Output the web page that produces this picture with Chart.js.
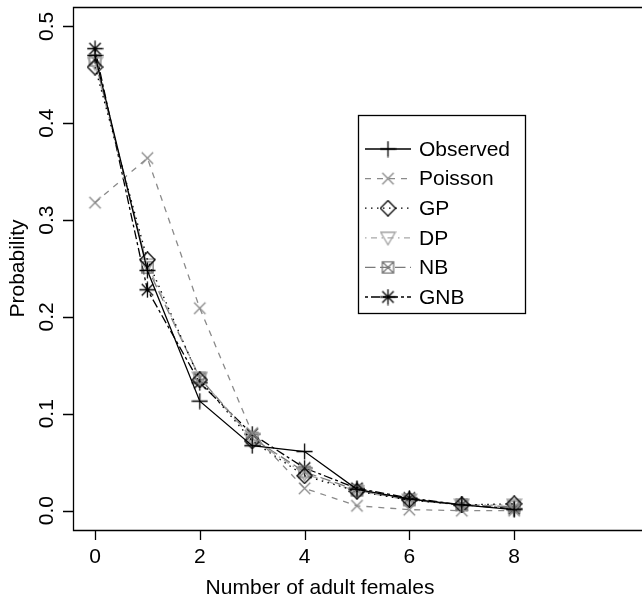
<!DOCTYPE html>
<html>
<head>
<meta charset="utf-8">
<script src="https://cdn.jsdelivr.net/npm/chart.js@4.4.1/dist/chart.umd.min.js"></script>
<style>
    html, body { margin: 0; padding: 0; background: #fff; }
    #wrap { width: 642px; height: 599px; }
</style>
</head>
<body>
<div id="wrap"><canvas id="chart" width="642" height="599"></canvas></div>
<script>
const xValues = [0, 1, 2, 3, 4, 5, 6, 7, 8];
const observed = [0.470, 0.248, 0.113, 0.067, 0.061, 0.022, 0.012, 0.006, 0.001];
const poisson = [0.318, 0.364, 0.209, 0.080, 0.023, 0.005, 0.001, 0.000, 0.000];
const gp = [0.458, 0.259, 0.135, 0.072, 0.036, 0.020, 0.011, 0.006, 0.007];
const dp = [0.462, 0.254, 0.137, 0.074, 0.038, 0.020, 0.011, 0.006, 0.006];
const nb = [0.465, 0.251, 0.137, 0.075, 0.040, 0.021, 0.011, 0.006, 0.004];
const gnb = [0.477, 0.228, 0.132, 0.079, 0.044, 0.023, 0.013, 0.006, 0.002];

const seriesNames = ['Observed', 'Poisson', 'GP', 'DP', 'NB', 'GNB'];
const xTicks = [0, 2, 4, 6, 8];
const yTicks = [0, 0.1, 0.2, 0.3, 0.4, 0.5];
const yTickLabels = ['0.0', '0.1', '0.2', '0.3', '0.4', '0.5'];
const xTitle = 'Number of adult females';
const yTitle = 'Probability';

const FONT = '21px "Liberation Sans", Arial, sans-serif';

// small canvases used as point styles (R pch 3, 4, 5, 6, 7, 8)
function makeMarker(kind, color) {
    const c = document.createElement('canvas');
    c.width = 17;
    c.height = 17;
    const g = c.getContext('2d');
    g.strokeStyle = color;
    g.lineWidth = 1.3;
    g.beginPath();
    if (kind === 'plus' || kind === 'star') {
        g.moveTo(8.5, 0.5); g.lineTo(8.5, 16.5);
        g.moveTo(0.5, 8.5); g.lineTo(16.5, 8.5);
    }
    if (kind === 'x' || kind === 'star' || kind === 'boxx') {
        g.moveTo(2.8, 2.8); g.lineTo(14.2, 14.2);
        g.moveTo(14.2, 2.8); g.lineTo(2.8, 14.2);
    }
    if (kind === 'boxx') {
        g.rect(2.8, 2.8, 11.4, 11.4);
    }
    if (kind === 'diamond') {
        g.moveTo(8.5, 0.8); g.lineTo(16.2, 8.5); g.lineTo(8.5, 16.2); g.lineTo(0.8, 8.5); g.closePath();
    }
    if (kind === 'tri') {
        g.moveTo(1.2, 3); g.lineTo(15.8, 3); g.lineTo(8.5, 15.5); g.closePath();
    }
    g.stroke();
    return c;
}

const styles = [
    { color: '#000000', dash: [], marker: makeMarker('plus', '#000000') },
    { color: '#8a8a8a', dash: [6, 6], marker: makeMarker('x', '#8a8a8a') },
    { color: '#000000', dash: [1.5, 4.5], marker: makeMarker('diamond', '#000000') },
    { color: '#a8a8a8', dash: [1.5, 4.5, 6, 4.5], marker: makeMarker('tri', '#a0a0a0') },
    { color: '#7a7a7a', dash: [10.5, 4.5], marker: makeMarker('boxx', '#7a7a7a') },
    { color: '#000000', dash: [3, 3, 9, 3], marker: makeMarker('star', '#000000') }
];
const seriesValues = [observed, poisson, gp, dp, nb, gnb];

function toPoints(vals) {
    return xValues.map(function (x, i) { return { x: x, y: vals[i] }; });
}

const datasets = seriesNames.map(function (name, i) {
    return {
        label: name,
        data: toPoints(seriesValues[i]),
        borderColor: styles[i].color,
        borderWidth: 1.3,
        borderDash: styles[i].dash,
        pointStyle: styles[i].marker,
        pointRadius: 8,
        pointHoverRadius: 8,
        fill: false,
        tension: 0
    };
});

// box (right side runs off the picture), R-style axes and legend
const rFrame = {
    id: 'rFrame',
    afterDraw: function (chart) {
        const ctx = chart.ctx;
        const a = chart.chartArea;
        const xs = chart.scales.x;
        const ys = chart.scales.y;
        ctx.save();
        ctx.strokeStyle = '#000';
        ctx.lineWidth = 1.3;
        ctx.beginPath();
        ctx.moveTo(chart.width, a.top + 0.5);
        ctx.lineTo(a.left + 0.5, a.top + 0.5);
        ctx.lineTo(a.left + 0.5, a.bottom + 0.5);
        ctx.lineTo(chart.width, a.bottom + 0.5);
        ctx.stroke();

        ctx.fillStyle = '#000';
        ctx.font = FONT;
        ctx.textAlign = 'center';
        ctx.textBaseline = 'middle';
        ctx.beginPath();
        xTicks.forEach(function (t) {
            const px = Math.round(xs.getPixelForValue(t)) + 0.5;
            ctx.moveTo(px, a.bottom);
            ctx.lineTo(px, a.bottom + 10);
        });
        yTicks.forEach(function (t) {
            const py = Math.round(ys.getPixelForValue(t)) + 0.5;
            ctx.moveTo(a.left, py);
            ctx.lineTo(a.left - 10, py);
        });
        ctx.stroke();
        xTicks.forEach(function (t) {
            ctx.fillText(String(t), xs.getPixelForValue(t), a.bottom + 27);
        });
        yTicks.forEach(function (t, i) {
            ctx.save();
            ctx.translate(a.left - 26, ys.getPixelForValue(t));
            ctx.rotate(-Math.PI / 2);
            ctx.fillText(yTickLabels[i], 0, 0);
            ctx.restore();
        });
        ctx.fillText(xTitle, 320, a.bottom + 58);
        ctx.save();
        ctx.translate(18, (a.top + a.bottom) / 2);
        ctx.rotate(-Math.PI / 2);
        ctx.fillText(yTitle, 0, 0);
        ctx.restore();

        // legend
        const lx = 358, ly = 115, lw = 167, lh = 198;
        ctx.fillStyle = '#fff';
        ctx.fillRect(lx, ly, lw, lh);
        ctx.strokeStyle = '#000';
        ctx.lineWidth = 1.3;
        ctx.strokeRect(lx + 0.5, ly + 0.5, lw, lh);
        ctx.textAlign = 'left';
        seriesNames.forEach(function (name, i) {
            const y = ly + 34 + i * 29.6;
            ctx.strokeStyle = styles[i].color;
            ctx.lineWidth = 1.3;
            ctx.setLineDash(styles[i].dash);
            ctx.beginPath();
            ctx.moveTo(365, y);
            ctx.lineTo(411, y);
            ctx.stroke();
            ctx.setLineDash([]);
            ctx.drawImage(styles[i].marker, 388 - 8.5, y - 8.5);
            ctx.fillStyle = '#000';
            ctx.fillText(name, 419, y + 1);
        });
        ctx.restore();
    }
};

new Chart(document.getElementById('chart').getContext('2d'), {
    type: 'line',
    data: { datasets: datasets },
    options: {
        responsive: false,
        animation: false,
        events: [],
        layout: { autoPadding: false, padding: { left: 73, top: 7, right: 0, bottom: 69 } },
        scales: {
            x: { type: 'linear', min: -0.42, max: 10.44, display: false },
            y: { type: 'linear', min: -0.02, max: 0.52, display: false }
        },
        plugins: {
            legend: { display: false },
            tooltip: { enabled: false }
        }
    },
    plugins: [rFrame]
});
</script>
</body>
</html>
